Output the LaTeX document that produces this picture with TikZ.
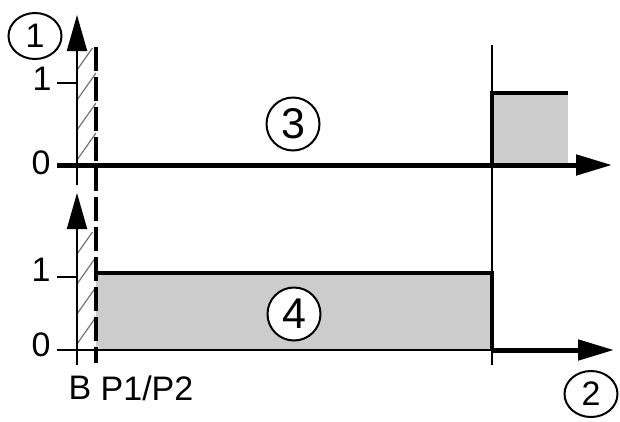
\documentclass[tikz,border=0pt]{standalone}
\usepackage{fontspec}
\setmainfont{Liberation Sans}
\usetikzlibrary{arrows.meta, shapes.geometric}

\begin{document}
\begin{tikzpicture}[
    x=1pt, y=-1pt,
    every node/.style={font=\fontsize{34}{38}\selectfont, inner sep=0pt},
    num/.style={ellipse, draw, line width=2pt, fill=white, minimum width=53pt, minimum height=46pt},
    bignum/.style={num, minimum height=53pt, font=\fontsize{43}{46}\selectfont},
    axis/.style={line width=2pt, -{Triangle[length=36pt, width=20pt]}},
    base/.style={line width=5pt, -{Triangle[length=36pt, width=20pt]}},
    level/.style={line width=4.5pt},
    tick/.style={line width=2.5pt},
    switch/.style={line width=4pt, dash pattern=on 24pt off 6pt},
    hatch/.style={line width=1.2pt, black!55},
    shade/.style={fill=black!20},
]

  \useasboundingbox (0,0) rectangle (620,421);

  % START OF COORDINATES

  \coordinate (topfoot) at (77,185);
  \coordinate (toptip) at (77,15);
  \coordinate (lowfoot) at (77,365);
  \coordinate (lowtip) at (77,193);
  \coordinate (dashtop) at (96,47);
  \coordinate (dashbot) at (96,363);
  \coordinate (zero1) at (57,165);
  \coordinate (end1) at (612,165);
  \coordinate (zero2) at (57,350);
  \coordinate (cut2) at (492,350);
  \coordinate (end2) at (614,350);
  \coordinate (cuttop) at (492,45);
  \coordinate (cutbot) at (492,365);

  % shaded levels
  \fill[shade] (492,93) rectangle (568,165);
  \fill[shade] (96,273) rectangle (492,350);

  % hatched start zones
  \foreach \ya/\yb in {48/165, 232/350} {
    \begin{scope}
      \clip (77,\ya) rectangle (96,\yb);
      \foreach \k in {0,...,7}
        \draw[hatch] (77,\ya+22+30*\k) -- (96,\ya-5+30*\k);
    \end{scope}
  }

  % axes
  \draw[axis] (topfoot) -- (toptip);
  \draw[axis] (lowfoot) -- (lowtip);
  \draw[base] (zero1) -- (end1);
  \draw[tick] (zero2) -- (cut2);
  \draw[base] (cut2) -- (end2);
  \draw[tick] (57,83) -- (77,83);
  \draw[tick] (57,277) -- (77,277);

  % switching point and levels
  \draw[line width=1.5pt] (cuttop) -- (cutbot);
  \draw[switch] (dashtop) -- (dashbot);
  \draw[level] (492,165) -- (492,93) -- (568,93);
  \draw[level] (96,273) -- (492,273) -- (492,350);

  % START OF LABELS

  \node (one1) at (42,79) {1};
  \node (nil1) at (41,163) {0};
  \node (one2) at (41,270) {1};
  \node (nil2) at (41,345) {0};
  \node (lblB) at (80,388) {B};
  \node (lblP) at (147,388) {P1/P2};

  \node[num] (c1) at (35,36) {1};
  \node[bignum] (c3) at (293,124) {3};
  \node[bignum] (c4) at (294,314) {4};
  \node[num] (c2) at (591,394) {2};

\end{tikzpicture}
\end{document}
